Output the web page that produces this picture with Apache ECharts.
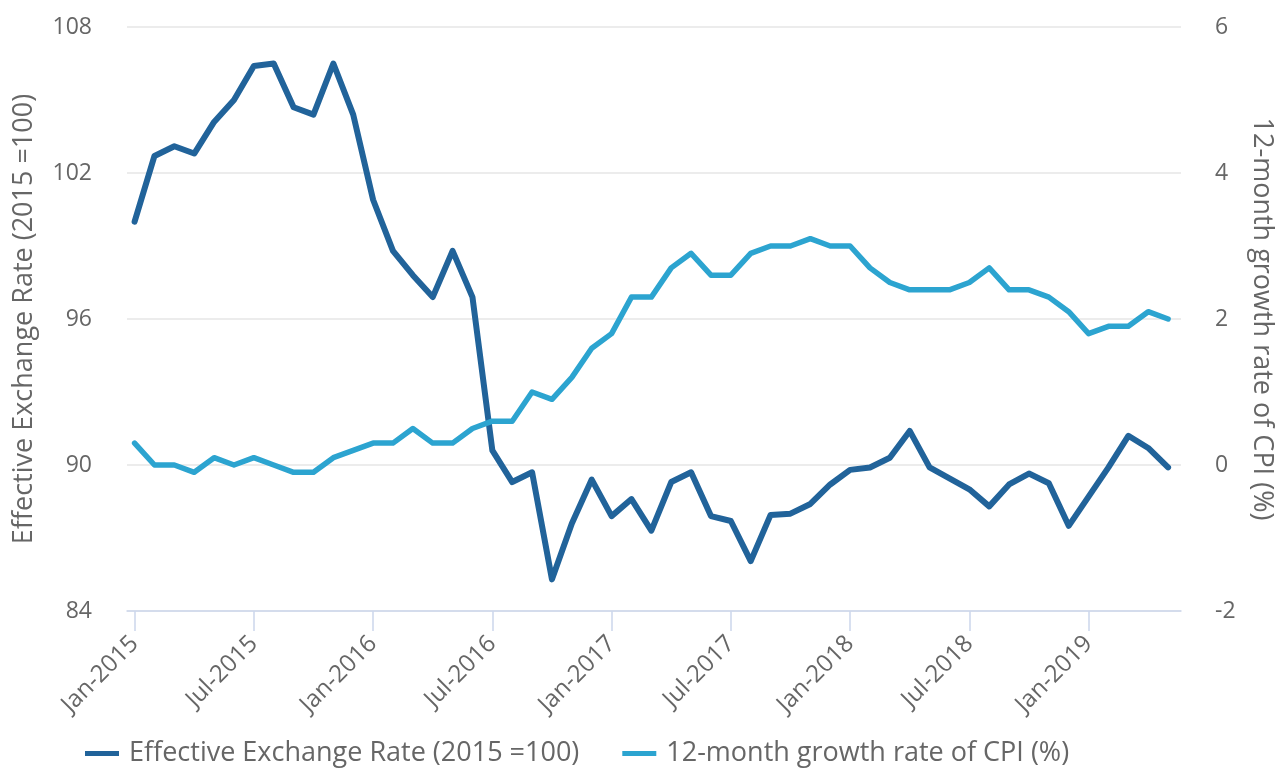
<!DOCTYPE html>
<html>
<head>
<meta charset="utf-8">
<script src="https://cdn.jsdelivr.net/npm/echarts@6/dist/echarts.min.js"></script>
<style>
html,body{margin:0;padding:0;background:#fff;}
#chart{width:1288px;height:769px;}
</style>
</head>
<body>
<div id="chart"></div>
<script>
// Monthly categories Jan-2015 .. May-2019
const months = ['Jan','Feb','Mar','Apr','May','Jun','Jul','Aug','Sep','Oct','Nov','Dec'];
const categories = [];
for (let y = 2015; y <= 2019; y++) {
  for (let m = 0; m < 12; m++) {
    if (y === 2019 && m > 4) break;
    categories.push(months[m] + '-' + y);
  }
}
const exchangeRate = [100.0,102.7,103.1,102.8,104.1,105.0,106.4,106.5,104.7,104.4,
  106.5,104.4,100.9,98.8,97.8,96.9,98.8,96.9,90.6,89.3,
  89.7,85.3,87.6,89.4,87.9,88.6,87.3,89.3,89.7,87.9,
  87.7,86.05,87.95,88.0,88.4,89.2,89.8,89.9,90.3,91.4,
  89.9,89.45,89.0,88.3,89.2,89.65,89.25,87.5,88.7,89.9,
  91.2,90.7,89.9];
const cpiGrowth = [0.3,0.0,0.0,-0.1,0.1,0.0,0.1,0.0,-0.1,-0.1,
  0.1,0.2,0.3,0.3,0.5,0.3,0.3,0.5,0.6,0.6,
  1.0,0.9,1.2,1.6,1.8,2.3,2.3,2.7,2.9,2.6,
  2.6,2.9,3.0,3.0,3.1,3.0,3.0,2.7,2.5,2.4,
  2.4,2.4,2.5,2.7,2.4,2.4,2.3,2.1,1.8,1.9,
  1.9,2.1,2.0];
const tickIndices = [0,6,12,18,24,30,36,42,48];
const leftTitle = 'Effective Exchange Rate (2015 =100)';
const rightTitle = '12-month growth rate of CPI (%)';

const FONT = '"Open Sans", "Noto Sans", sans-serif';
const chart = echarts.init(document.getElementById('chart'));
chart.setOption({
  animation: false,
  textStyle: { fontFamily: FONT },
  grid: { left: 127, right: 107, top: 27, bottom: 158, containLabel: false },
  legend: {
    left: 85, top: 740, padding: 0,
    itemWidth: 34, itemHeight: 5, itemGap: 43,
    icon: 'rect',
    textStyle: { fontSize: 27, color: '#666666', fontFamily: FONT, padding: [0,0,0,5] },
    data: [leftTitle, rightTitle]
  },
  xAxis: {
    type: 'value',
    min: -0.382, max: 52.65,
    splitLine: { show: false },
    axisLine: { show: true, onZero: false, lineStyle: { color: '#ccd6eb', width: 1.5 } },
    axisTick: { show: true, length: 20, customValues: tickIndices, lineStyle: { color: '#ccd6eb', width: 1.5 } },
    axisLabel: {
      customValues: tickIndices,
      rotate: 45, margin: 29,
      fontSize: 24, color: '#666666', fontFamily: FONT,
      formatter: v => categories[Math.round(v)] || ''
    }
  },
  yAxis: [
    {
      type: 'value', min: 84, max: 108, interval: 6, position: 'left',
      name: leftTitle, nameLocation: 'middle', nameGap: 89, nameRotate: 90,
      nameTextStyle: { fontSize: 27, color: '#666666', fontFamily: FONT },
      axisLine: { show: false }, axisTick: { show: false },
      axisLabel: { fontSize: 23, color: '#666666', margin: 35, fontFamily: FONT },
      splitLine: { show: true, lineStyle: { color: '#e6e6e6', width: 1.5 } }
    },
    {
      type: 'value', min: -2, max: 6, interval: 2, position: 'right',
      name: rightTitle, nameLocation: 'middle', nameGap: 67, nameRotate: -90,
      nameTextStyle: { fontSize: 27, color: '#666666', fontFamily: FONT },
      axisLine: { show: false }, axisTick: { show: false },
      axisLabel: { fontSize: 23, color: '#666666', margin: 34, fontFamily: FONT },
      splitLine: { show: false }
    }
  ],
  series: [
    {
      name: leftTitle, type: 'line', yAxisIndex: 0,
      data: exchangeRate.map((v, i) => [i, v]),
      showSymbol: false, symbol: 'none',
      color: '#21639a',
      lineStyle: { width: 6, color: '#21639a', cap: 'round', join: 'round' }
    },
    {
      name: rightTitle, type: 'line', yAxisIndex: 1,
      data: cpiGrowth.map((v, i) => [i, v]),
      showSymbol: false, symbol: 'none',
      color: '#2ca4d0',
      lineStyle: { width: 5.5, color: '#2ca4d0', cap: 'round', join: 'round' }
    }
  ]
});
</script>
</body>
</html>
